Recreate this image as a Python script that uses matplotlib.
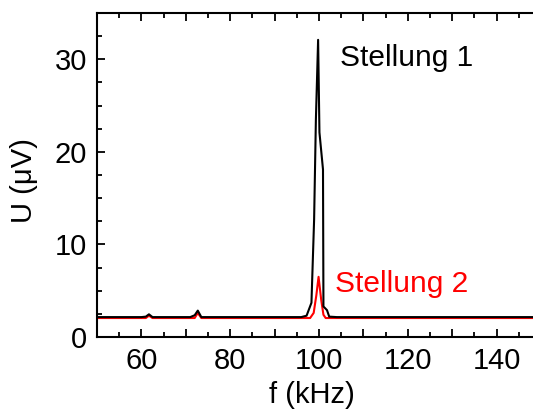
import matplotlib
matplotlib.use("Agg")
import matplotlib.pyplot as plt
from matplotlib.ticker import MultipleLocator, FuncFormatter

plt.rcParams["font.family"] = ["Liberation Sans", "DejaVu Sans"]

# Stellung 1 (black)
f_pos1 = [50, 60, 61.0, 61.7, 62.5, 64, 71, 72.0, 72.7, 73.5, 75, 96, 97.2, 98.3,
          98.9, 99.3, 99.8, 100.1, 100.9, 101.0, 101.8, 102.3, 104, 150]
u_pos1 = [2.15, 2.15, 2.2, 2.45, 2.15, 2.15, 2.15, 2.35, 2.85, 2.15, 2.15, 2.15, 2.3, 3.7,
          12.7, 23.5, 32.1, 22.1, 18.1, 3.3, 2.9, 2.2, 2.15, 2.15]

# Stellung 2 (red)
f_pos2 = [50, 61.0, 61.7, 62.5, 72.0, 72.7, 73.5, 98.0, 98.8, 99.4, 99.9, 100.5,
          101.0, 101.5, 150]
u_pos2 = [2.05, 2.05, 2.3, 2.05, 2.05, 2.6, 2.05, 2.05, 2.6, 4.5, 6.5, 4.0,
          2.4, 2.05, 2.05]

fig = plt.figure(figsize=(5.33, 4.15), dpi=100)
ax = fig.add_axes([97 / 533, 78 / 415, 444 / 533, 324 / 415])

ax.plot(f_pos2, u_pos2, color="red", lw=1.5)
ax.plot(f_pos1, u_pos1, color="black", lw=1.5)

ax.set_xlim(50, 150)
ax.set_ylim(0, 35)
# x: long ticks every 10, labels every 20, short ticks every 5
ax.xaxis.set_major_locator(MultipleLocator(10))
ax.xaxis.set_major_formatter(FuncFormatter(lambda v, p: f"{v:.0f}" if round(v) % 20 == 0 else ""))
ax.xaxis.set_minor_locator(MultipleLocator(5))
ax.yaxis.set_major_locator(MultipleLocator(10))
ax.yaxis.set_minor_locator(MultipleLocator(2.5))

ax.tick_params(which="both", direction="in", top=True, right=True, width=1.3)
ax.tick_params(which="major", length=6, labelsize=21, pad=7)
ax.tick_params(which="minor", length=3.5)
for s in ax.spines.values():
    s.set_linewidth(1.5)

ax.text(104.7, 29.3, "Stellung 1", fontsize=21.5, color="black", va="baseline")
ax.text(103.6, 4.9, "Stellung 2", fontsize=21.5, color="red", va="baseline")

ax.set_xlabel("f (kHz)", fontsize=21)
ax.set_ylabel("U (μV)", fontsize=21)
ax.xaxis.set_label_coords((312 - 97) / 444, -(381 - 337) / 324)
ax.yaxis.set_label_coords((38 - 97) / 444, (337 - 181) / 324)

fig.savefig("out.png", dpi=100)
